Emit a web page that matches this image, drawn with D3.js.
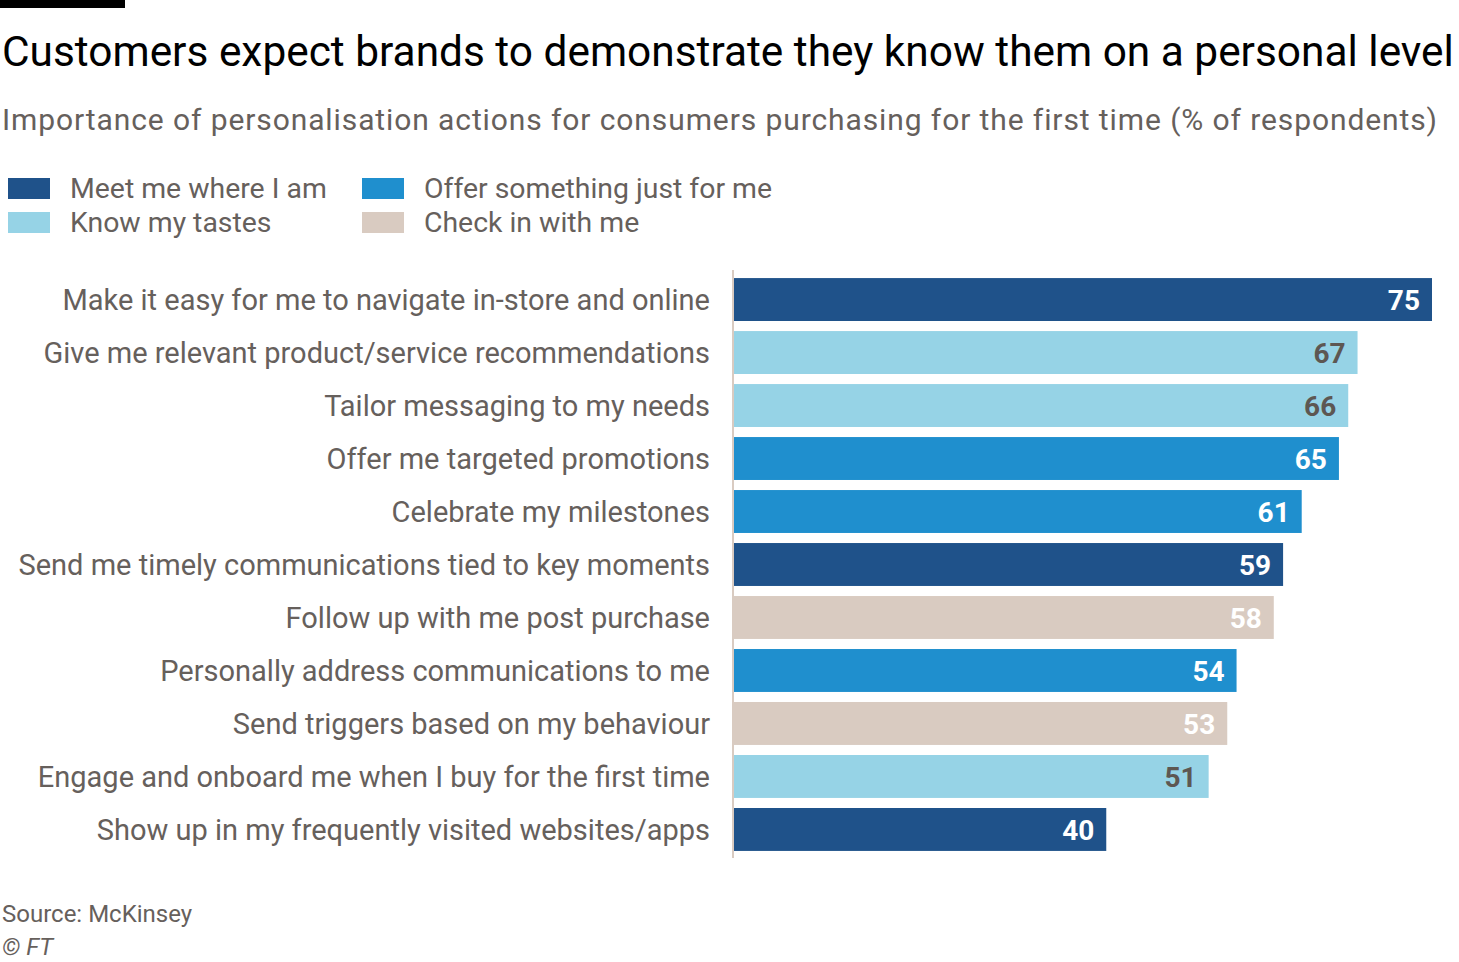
<!DOCTYPE html>
<html lang="en">
<head>
  <meta charset="UTF-8">
  <title>Customers expect brands to demonstrate they know them on a personal level</title>
  <script src="https://d3js.org/d3.v7.min.js"></script>
  <style>
    body {
      margin: 0;
      background: #ffffff;
      font-family: Roboto, 'Noto Sans', sans-serif;
    }
    .title { font-size: 42.4px; fill: #000000; }
    .subtitle { font-size: 30px; letter-spacing: 0.9px; fill: #66605c; }
    .legend-label { font-size: 28.4px; fill: #66605c; }
    .cat-label { font-size: 29px; fill: #66605c; text-anchor: end; }
    .value-label { font-size: 28px; font-weight: bold; text-anchor: end; }
    .footer { font-size: 24px; fill: #66605c; }
  </style>
</head>
<body>
  <svg id="chart" width="1459" height="962"></svg>

  <script>
    // Dữ liệu
    const categories = [
      "Make it easy for me to navigate in-store and online",
      "Give me relevant product/service recommendations",
      "Tailor messaging to my needs",
      "Offer me targeted promotions",
      "Celebrate my milestones",
      "Send me timely communications tied to key moments",
      "Follow up with me post purchase",
      "Personally address communications to me",
      "Send triggers based on my behaviour",
      "Engage and onboard me when I buy for the first time",
      "Show up in my frequently visited websites/apps"
    ];
    const values = [75, 67, 66, 65, 61, 59, 58, 54, 53, 51, 40];
    const groups = [
      "Meet me where I am",
      "Know my tastes",
      "Know my tastes",
      "Offer something just for me",
      "Offer something just for me",
      "Meet me where I am",
      "Check in with me",
      "Offer something just for me",
      "Check in with me",
      "Know my tastes",
      "Meet me where I am"
    ];
    const legendGroups = ["Meet me where I am", "Know my tastes", "Offer something just for me", "Check in with me"];
    const xDomain = [0, 75];

    const dataset = categories.map((c, i) => ({ label: c, value: values[i], group: groups[i] }));

    const color = d3.scaleOrdinal()
      .domain(legendGroups)
      .range(["#1f528a", "#96d3e6", "#1f8fce", "#d9cbc1"]);

    const textColor = d3.scaleOrdinal()
      .domain(legendGroups)
      .range(["#ffffff", "#5d5752", "#ffffff", "#ffffff"]);

    const svg = d3.select("#chart");

    // Thanh đen trên cùng
    svg.append("rect")
      .attr("x", 0).attr("y", 0)
      .attr("width", 125).attr("height", 8)
      .attr("fill", "#000");

    svg.append("text")
      .attr("class", "title")
      .attr("x", 2).attr("y", 66)
      .text("Customers expect brands to demonstrate they know them on a personal level");

    svg.append("text")
      .attr("class", "subtitle")
      .attr("x", 2).attr("y", 130)
      .text("Importance of personalisation actions for consumers purchasing for the first time (% of respondents)");

    // Chú thích
    const legend = svg.append("g")
      .selectAll("g")
      .data(legendGroups)
      .enter()
      .append("g")
      .attr("transform", (d, i) => `translate(${i < 2 ? 8 : 362}, ${178 + (i % 2) * 34})`);

    legend.append("rect")
      .attr("width", 42).attr("height", 21)
      .attr("fill", d => color(d));

    legend.append("text")
      .attr("class", "legend-label")
      .attr("x", 62).attr("y", 20)
      .text(d => d);

    // Thang đo
    const x = d3.scaleLinear()
      .domain(xDomain)
      .range([734, 1432]);

    const y = d3.scaleBand()
      .domain(categories)
      .range([268, 861])
      .padding(0.19);

    // Trục dọc
    svg.append("line")
      .attr("x1", 733).attr("x2", 733)
      .attr("y1", 270).attr("y2", 858)
      .attr("stroke", "#d9cbc1")
      .attr("stroke-width", 2);

    // Vẽ cột
    svg.selectAll(".bar")
      .data(dataset)
      .enter()
      .append("rect")
      .attr("class", "bar")
      .attr("x", x(0))
      .attr("y", d => y(d.label))
      .attr("width", d => x(d.value) - x(0))
      .attr("height", y.bandwidth())
      .attr("fill", d => color(d.group));

    // Nhãn danh mục
    svg.selectAll(".cat-label")
      .data(dataset)
      .enter()
      .append("text")
      .attr("class", "cat-label")
      .attr("x", 710)
      .attr("y", d => y(d.label) + y.bandwidth() / 2)
      .attr("dy", "0.36em")
      .text(d => d.label);

    // Nhãn giá trị
    svg.selectAll(".value-label")
      .data(dataset)
      .enter()
      .append("text")
      .attr("class", "value-label")
      .attr("x", d => x(d.value) - 12)
      .attr("y", d => y(d.label) + y.bandwidth() / 2)
      .attr("dy", "0.36em")
      .attr("fill", d => textColor(d.group))
      .text(d => d.value);

    // Nguồn
    svg.append("text")
      .attr("class", "footer")
      .attr("x", 2).attr("y", 922)
      .text("Source: McKinsey");

    svg.append("text")
      .attr("class", "footer")
      .attr("x", 2).attr("y", 955)
      .style("font-style", "italic")
      .text("© FT");
  </script>
</body>
</html>
